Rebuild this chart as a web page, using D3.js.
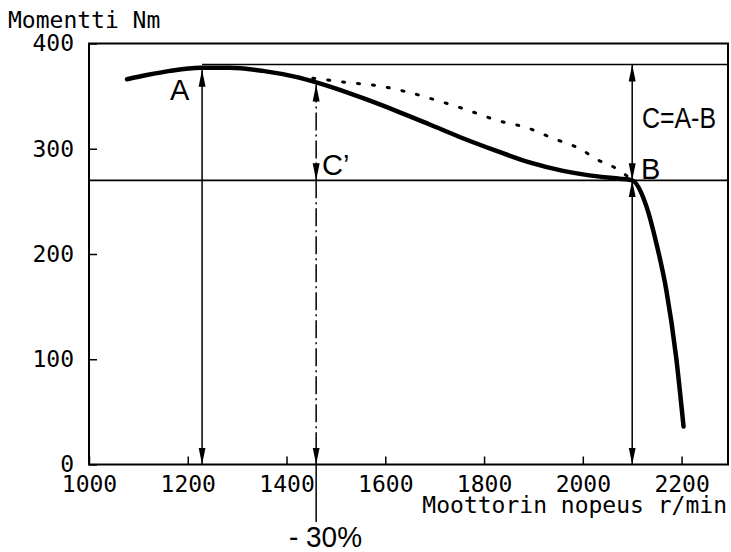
<!DOCTYPE html>
<html lang="en">
<head>
<meta charset="utf-8">
<title>Momentti</title>
<style>
  body { margin: 0; background: #fff; }
  .plot { font-family: "DejaVu Sans Mono", monospace; font-size: 23px; fill: #000; }
  .lab { font-family: "Liberation Sans", Arial, sans-serif; font-size: 29px; fill: #000; }
  .frame { fill: none; stroke: #000; stroke-width: 2px; }
  .level { stroke: #000; stroke-width: 1.6px; }
  .arrow { stroke: #000; stroke-width: 1.5px; fill: none; }
  .dashdot { stroke-dasharray: 18 4 2 4; }
  .main { fill: none; stroke: #000; stroke-width: 4.5px; stroke-linecap: round; }
  .dots { fill: none; stroke: #000; stroke-width: 3px; stroke-dasharray: 2 13; stroke-linecap: round; }
</style>
</head>
<body>
<svg width="731" height="552"></svg>
<script src="https://d3js.org/d3.v7.min.js"></script>
<script>
// ticks
var rpmTicks = [1000, 1200, 1400, 1600, 1800, 2000, 2200];
var torqueTicks = [0, 100, 200, 300, 400];

// full load torque curve (r/min, Nm)
var mainRpm = [1077, 1117, 1164, 1225, 1285, 1352, 1421, 1488, 1555, 1622, 1690, 1757, 1825, 1892, 1960, 2034, 2075, 2100, 2129, 2149, 2169, 2189, 2204];
var mainNm  = [366, 370, 374, 377, 377, 374, 368, 359, 348, 336, 323, 310, 298, 287, 279, 273.5, 271.5, 270, 245, 210, 166, 102, 36];

// dotted curve
var dotRpm = [1423, 1453, 1522, 1583, 1644, 1704, 1765, 1826, 1887, 1939, 1998, 2024, 2065, 2090];
var dotNm  = [368, 367, 363, 360, 354, 346, 337, 327, 320, 310, 299, 291, 282, 274];

// reference levels and arrow positions
var levelA = 380, levelB = 270;
var rpmA = 1229, rpmCp = 1460, rpmB = 2100;
var topA = 375, topCp = 361;

var svg = d3.select("svg");

var x = d3.scaleLinear().domain([1000, 2294]).range([89, 728]);
var y = d3.scaleLinear().domain([0, 400]).range([464.5, 43.5]);

// arrow heads
var defs = svg.append("defs");
defs.append("marker")
    .attr("id", "head")
    .attr("markerUnits", "userSpaceOnUse")
    .attr("viewBox", "0 0 17 8")
    .attr("refX", 17).attr("refY", 4)
    .attr("markerWidth", 17).attr("markerHeight", 8)
    .attr("orient", "auto-start-reverse")
  .append("path")
    .attr("d", "M0,0.5 L17,4 L0,7.5 Z")
    .attr("fill", "#000");

// axes
var xAxis = d3.axisBottom(x)
    .tickValues(rpmTicks)
    .tickSizeInner(-8).tickSizeOuter(0)
    .tickPadding(11)
    .tickFormat(d3.format("d"));

var yAxis = d3.axisLeft(y)
    .tickValues(torqueTicks)
    .tickSizeInner(-8).tickSizeOuter(0)
    .tickPadding(15);

var gx = svg.append("g")
    .attr("transform", "translate(0," + y(0) + ")")
    .call(xAxis);
var gy = svg.append("g")
    .attr("transform", "translate(" + x(1000) + ",0)")
    .call(yAxis);

[gx, gy].forEach(function(g) {
  g.select(".domain").remove();
  g.selectAll("line").attr("stroke", "#000").attr("stroke-width", 1.5);
  g.selectAll("text").attr("class", "plot").attr("font-family", null).attr("font-size", null).attr("fill", "#000");
});

// frame
svg.append("rect")
   .attr("class", "frame")
   .attr("x", x(1000)).attr("y", y(400))
   .attr("width", x(2294) - x(1000))
   .attr("height", y(0) - y(400));

// level lines
svg.append("line")
   .attr("class", "level")
   .attr("x1", x(rpmA)).attr("x2", x(2294))
   .attr("y1", y(levelA)).attr("y2", y(levelA));
svg.append("line")
   .attr("class", "level")
   .attr("x1", x(1000)).attr("x2", x(2294))
   .attr("y1", y(levelB)).attr("y2", y(levelB));

// curves
var line = d3.line()
    .x(function(d) { return x(d[0]); })
    .y(function(d) { return y(d[1]); })
    .curve(d3.curveMonotoneX);

svg.append("path")
   .attr("class", "dots")
   .attr("d", line(dotRpm.map(function(r, i) { return [r, dotNm[i]]; })));

svg.append("path")
   .attr("class", "main")
   .attr("d", line(mainRpm.map(function(r, i) { return [r, mainNm[i]]; })));

// double headed arrows
function arrow(rpm, v1, v2, cls, heads) {
  var a = svg.append("line")
     .attr("class", "arrow " + (cls || ""))
     .attr("x1", x(rpm)).attr("x2", x(rpm))
     .attr("y1", y(v1)).attr("y2", y(v2));
  if (heads !== "end") a.attr("marker-start", "url(#head)");
  a.attr("marker-end", "url(#head)");
  return a;
}

arrow(rpmA, topA, 0);
arrow(rpmCp, topCp, levelB, "dashdot");
arrow(rpmCp, levelB, 0, "dashdot", "end");
svg.append("line")
   .attr("class", "arrow")
   .attr("x1", x(rpmCp)).attr("x2", x(rpmCp))
   .attr("y1", y(0)).attr("y2", 522);
arrow(rpmB, levelA, levelB);
arrow(rpmB, levelB, 0);

// labels
svg.append("text").attr("class", "plot")
   .attr("x", 8).attr("y", 28)
   .text("Momentti Nm");

svg.append("text").attr("class", "plot")
   .attr("x", 727).attr("y", 513)
   .attr("text-anchor", "end")
   .text("Moottorin nopeus r/min");

svg.append("text").attr("class", "lab")
   .attr("x", 170).attr("y", 100).text("A");

svg.append("text").attr("class", "lab")
   .attr("x", 641).attr("y", 179).text("B");

svg.append("text").attr("class", "lab")
   .attr("x", 322).attr("y", 175).text("C\u2019");

svg.append("text").attr("class", "lab")
   .attr("x", 642).attr("y", 128)
   .attr("textLength", 74).attr("lengthAdjust", "spacingAndGlyphs")
   .text("C=A-B");

svg.append("text").attr("class", "lab")
   .attr("x", 289).attr("y", 547)
   .attr("textLength", 73).attr("lengthAdjust", "spacingAndGlyphs")
   .text("- 30%");
</script>
</body>
</html>
